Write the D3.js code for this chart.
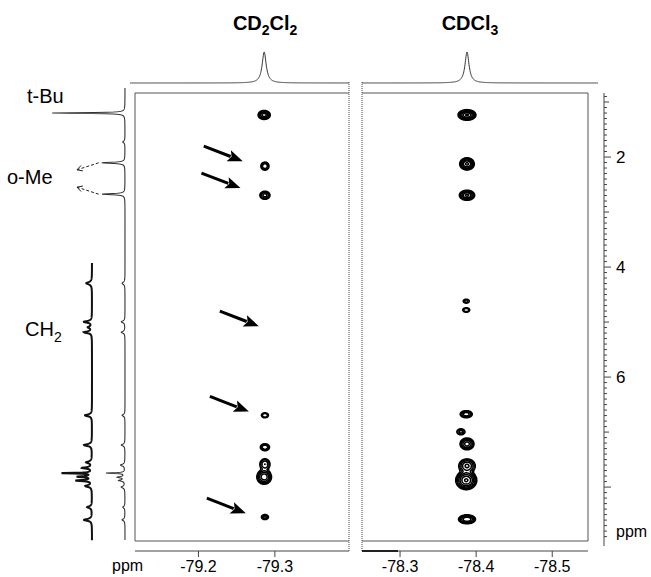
<!DOCTYPE html>
<html>
<head>
<meta charset="utf-8">
<script src="https://cdn.jsdelivr.net/npm/d3@7"></script>
<style>
body { margin: 0; background: #fff; }
svg { font-family: "Liberation Sans", Arial, sans-serif; }
</style>
</head>
<body>
<div id="chart"></div>
<script>
//DATA
//panel titles, main text + subscript pairs
var titleL = [["CD", "2"], ["Cl", "2"]];
var titleR = [["CDCl", "3"]];

//19F ranges of the two panels (ppm), left edge -> right edge
var fDomainL = [-79.117, -79.397];
var fDomainR = [-78.25, -78.547];
var fTicksL = [-79.2, -79.3];
var fTicksR = [-78.3, -78.4, -78.5];

//1H range (ppm), top -> bottom
var hDomain = [0.836, 8.98];
var hTicks = [2, 4, 6];

//cross peaks : [19F ppm, 1H ppm, intensity, width 19F, width 1H]
var peaksL = [
    [-79.286, 1.235, 8, 0.0039, 0.040],
    [-79.287, 2.165, 4, 0.0032, 0.044],
    [-79.287, 2.695, 5, 0.0037, 0.041],
    [-79.287, 6.695, 2.5, 0.0034, 0.034],
    [-79.287, 7.275, 4, 0.0036, 0.038],
    [-79.287, 7.585, 4, 0.0040, 0.060],
    [-79.286, 7.815, 9, 0.0046, 0.064],
    [-79.287, 8.545, 3, 0.0031, 0.031]
];
var peaksR = [
    [-78.388, 1.235, 16, 0.0050, 0.041],
    [-78.388, 2.125, 11, 0.0044, 0.051],
    [-78.388, 2.695, 11, 0.0046, 0.042],
    [-78.387, 4.62, 2, 0.0034, 0.031],
    [-78.387, 4.78, 2.5, 0.0034, 0.031],
    [-78.387, 6.675, 6, 0.0042, 0.034],
    [-78.380, 6.995, 3, 0.0036, 0.037],
    [-78.388, 7.215, 8, 0.0045, 0.053],
    [-78.388, 7.615, 7, 0.0055, 0.065],
    [-78.387, 7.875, 16, 0.0059, 0.073],
    [-78.388, 8.585, 10, 0.0052, 0.038]
];
var levels = [1, 1.6, 2.5, 4, 6.3, 10, 15];

//19F projections : [ppm, intensity, half width]
var fProjL = [[-79.286, 1, 0.0032]];
var fProjR = [[-78.388, 1, 0.0032]];

//1H spectrum (full) : [ppm, intensity, half width]
var hSpec = [
    [1.20, 1.0, 0.008],
    [1.725, 0.03, 0.02],
    [2.105, 0.32, 0.012],
    [2.675, 0.32, 0.012],
    [4.295, 0.04, 0.025],
    [4.995, 0.05, 0.02],
    [5.185, 0.05, 0.02],
    [6.695, 0.04, 0.02],
    [7.235, 0.05, 0.02],
    [7.60, 0.06, 0.02],
    [7.745, 0.26, 0.008],
    [7.82, 0.10, 0.015],
    [7.88, 0.08, 0.015],
    [8.00, 0.05, 0.02],
    [8.365, 0.03, 0.02],
    [8.595, 0.04, 0.02]
];
//1H spectrum, vertical expansion of the lower part
var hSpecExpRange = [3.925, 8.965];
var hSpecExp = [
    [4.295, 0.18, 0.025],
    [4.995, 0.25, 0.018],
    [5.095, 0.12, 0.02],
    [5.185, 0.25, 0.018],
    [6.695, 0.22, 0.02],
    [7.235, 0.25, 0.02],
    [7.55, 0.18, 0.02],
    [7.65, 0.30, 0.015],
    [7.745, 1.00, 0.007],
    [7.81, 0.45, 0.012],
    [7.88, 0.50, 0.012],
    [7.98, 0.20, 0.02],
    [8.365, 0.15, 0.02],
    [8.595, 0.25, 0.02]
];

//arrows pointing at the missing cross peaks in CD2Cl2 : [19F ppm, 1H ppm] of the tip
var arrowTips = [
    [-79.258, 2.075],
    [-79.255, 2.565],
    [-79.279, 5.075],
    [-79.266, 6.625],
    [-79.262, 8.475]
];
//o-Me lines used by the dashed arrows (ppm)
var oMe = [2.105, 2.675];

//LAYOUT
var W = 651, H = 577;
var top0 = 93, bot0 = 541;
var pL = {x0: 135, x1: 349};
var pR = {x0: 362, x1: 588};

var svg = d3.select("#chart").append("svg")
    .attr("width", W).attr("height", H);

var xL = d3.scaleLinear().domain(fDomainL).range([pL.x0, pL.x1]);
var xR = d3.scaleLinear().domain(fDomainR).range([pR.x0, pR.x1]);
var y = d3.scaleLinear().domain(hDomain).range([top0, bot0]);

//intensity scales of the 1D traces
var yProj = d3.scaleLinear().domain([0, 1]).range([83, 52]);
var xSpec = d3.scaleLinear().domain([0, 1]).range([125, 52]);
var xSpecExp = d3.scaleLinear().domain([0, 1]).range([92, 60]);

function lorentz(peaks, v) {
    var s = 0;
    for (var k = 0; k < peaks.length; k++) {
        var d = (v - peaks[k][0]) / peaks[k][2];
        s += peaks[k][1] / (1 + d * d);
    }
    return s;
}

/* TITLES */
function drawTitle(parts, cx) {
    var t = svg.append("text")
        .attr("x", cx).attr("y", 30)
        .attr("text-anchor", "middle")
        .style("font-weight", "bold")
        .style("font-size", "20px");
    parts.forEach(function (p, i) {
        t.append("tspan").text(p[0]).attr("dy", i ? -5 : 0);
        t.append("tspan").text(p[1]).attr("dy", 5).style("font-size", "14px");
    });
}
drawTitle(titleL, xL(-79.286) + 1);
drawTitle(titleR, xR(-78.388) + 3);

/* FRAMES */
var frame = svg.append("g")
    .attr("fill", "none").attr("stroke", "#555").attr("stroke-width", 1);
frame.append("path").attr("d", "M" + pL.x1 + "," + top0 + "H" + pL.x0 + "V" + bot0 + "H" + pL.x1);
frame.append("path").attr("d", "M" + pR.x0 + "," + top0 + "H" + pR.x1 + "V" + bot0 + "H" + pR.x0);
[pL.x1, pR.x0].forEach(function (x) {
    svg.append("line")
        .attr("x1", x).attr("x2", x).attr("y1", 82).attr("y2", 552)
        .attr("stroke", "#444").attr("stroke-width", 1)
        .attr("stroke-dasharray", "1,1");
});

/* CONTOURS */
function drawContours(peaks, xs, p) {
    var res = 2;
    var nx = Math.round((p.x1 - p.x0) * res), ny = Math.round((bot0 - top0) * res);
    var values = new Float64Array(nx * ny);
    for (var j = 0; j < ny; j++) {
        var h = y.invert(top0 + (j + 0.5) / res);
        for (var i = 0; i < nx; i++) {
            var f = xs.invert(p.x0 + (i + 0.5) / res);
            var v = 0;
            for (var k = 0; k < peaks.length; k++) {
                var dy = (h - peaks[k][1]) / peaks[k][4];
                if (dy > 6 || dy < -6) continue;
                var dx = (f - peaks[k][0]) / peaks[k][3];
                v += peaks[k][2] * Math.exp(-0.5 * (dx * dx + dy * dy));
            }
            values[j * nx + i] = v;
        }
    }
    var proj = d3.geoTransform({
        point: function (a, b) {
            this.stream.point(p.x0 + a / res, top0 + b / res);
        }
    });
    var path = d3.geoPath(proj);
    svg.append("g")
        .attr("fill", "none").attr("stroke", "#000").attr("stroke-width", 1.5)
        .selectAll("path")
        .data(d3.contours().size([nx, ny]).thresholds(levels)(values))
        .enter().append("path")
        .attr("d", path);
}
drawContours(peaksL, xL, pL);
drawContours(peaksR, xR, pR);

/* 19F PROJECTIONS */
function drawProj(peaks, xs, xa, xb) {
    var pts = d3.range(xa, xb + 0.01, 0.25).map(function (px) {
        return [px, yProj(lorentz(peaks, xs.invert(px)))];
    });
    svg.append("path")
        .attr("d", d3.line()(pts))
        .attr("fill", "none").attr("stroke", "#333").attr("stroke-width", 1);
}
drawProj(fProjL, xL, pL.x0 - 5, pL.x1);
drawProj(fProjR, xR, pR.x0, 598);

/* 1H SPECTRUM */
function drawSpec(peaks, xs, ya, yb, width, col) {
    var pts = d3.range(ya, yb + 0.01, 0.25).map(function (py) {
        return [xs(lorentz(peaks, y.invert(py))), py];
    });
    svg.append("path")
        .attr("d", d3.line()(pts))
        .attr("fill", "none").attr("stroke", col).attr("stroke-width", width);
}
drawSpec(hSpec, xSpec, 88, 540, 1.1, "#333");
drawSpec(hSpecExp, xSpecExp, y(hSpecExpRange[0]), y(hSpecExpRange[1]), 2, "#111");

/* LABELS OF THE 1H SPECTRUM */
svg.append("text").attr("x", 27).attr("y", 103).text("t-Bu").style("font-size", "20px");
svg.append("text").attr("x", 7).attr("y", 184).text("o-Me").style("font-size", "20px");
var ch2 = svg.append("text").attr("x", 25).attr("y", 336).style("font-size", "20px");
ch2.append("tspan").text("CH");
ch2.append("tspan").text("2").attr("dy", 6).style("font-size", "14px");

//dashed arrows from the o-Me lines
oMe.forEach(function (d, i) {
    var sx = xSpec(0.32) - 3, sy = y(d);
    var ex = 77, ey = sy + (i === 0 ? 7 : -7);
    var ang = Math.atan2(ey - sy, ex - sx);
    var g = svg.append("g").attr("stroke", "#222").attr("stroke-width", 1).attr("fill", "none");
    g.append("line").attr("x1", sx).attr("y1", sy).attr("x2", ex).attr("y2", ey)
        .attr("stroke-dasharray", "3,2");
    [0.5, -0.5].forEach(function (da) {
        g.append("line").attr("x1", ex).attr("y1", ey)
            .attr("x2", ex - 6 * Math.cos(ang + da)).attr("y2", ey - 6 * Math.sin(ang + da));
    });
});

/* ARROWS */
arrowTips.forEach(function (d) {
    var tx = xL(d[0]), ty = y(d[1]);
    var vx = 39, vy = 15, len = Math.sqrt(vx * vx + vy * vy);
    var ux = vx / len, uy = vy / len;
    var hl = 15, hw = 6;
    var bx = tx - ux * hl, by = ty - uy * hl;
    svg.append("line")
        .attr("x1", tx - vx).attr("y1", ty - vy).attr("x2", bx + ux * 2).attr("y2", by + uy * 2)
        .attr("stroke", "#000").attr("stroke-width", 3);
    svg.append("path")
        .attr("d", "M" + tx + "," + ty +
            "L" + (bx - uy * hw) + "," + (by + ux * hw) +
            "L" + (bx + ux * 3) + "," + (by + uy * 3) +
            "L" + (bx + uy * hw) + "," + (by - ux * hw) + "Z")
        .attr("fill", "#000");
});

/* BOTTOM AXES */
function drawBottom(xs, ticks, xa, xb) {
    var g = svg.append("g").attr("transform", "translate(0,551)");
    g.append("line").attr("x1", xa).attr("x2", xb).attr("stroke", "#444");
    g.selectAll(".t").data(ticks).enter().append("line")
        .attr("x1", xs).attr("x2", xs).attr("y1", 0).attr("y2", 6)
        .attr("stroke", "#444");
    g.selectAll(".l").data(ticks).enter().append("text")
        .attr("x", xs).attr("y", 21)
        .attr("text-anchor", "middle")
        .style("font-size", "16px")
        .text(function (d) { return d.toFixed(1); });
}
drawBottom(xL, fTicksL, pL.x0, pL.x1);
drawBottom(xR, fTicksR, pR.x0, pR.x1);
svg.append("line").attr("x1", pR.x0).attr("x2", 398).attr("y1", 551).attr("y2", 551)
    .attr("stroke", "#222").attr("stroke-width", 2);
svg.append("text").attr("x", 112).attr("y", 571).text("ppm").style("font-size", "16px");

/* RIGHT 1H AXIS */
var ax = 604;
var ra = svg.append("g").attr("stroke", "#444").attr("stroke-width", 1);
ra.append("line").attr("x1", ax).attr("x2", ax).attr("y1", top0).attr("y2", 546);
var minor = d3.range(Math.ceil(hDomain[0] * 10), Math.floor(hDomain[1] * 10) + 1).map(function (d) { return d / 10; });
ra.selectAll("line.m").data(minor).enter().append("line")
    .attr("x1", ax).attr("y1", function (d) { return y(d); }).attr("y2", function (d) { return y(d); })
    .attr("x2", function (d) {
        var r = Math.round(d * 10);
        if (r % 20 === 0) return ax + 7;
        if (r % 10 === 0) return ax + 5;
        return ax + 3;
    });
svg.selectAll("text.h").data(hTicks).enter().append("text")
    .attr("x", 616).attr("y", function (d) { return y(d) + 6; })
    .style("font-size", "17px")
    .text(function (d) { return d; });
svg.append("text").attr("x", 616).attr("y", 537).text("ppm").style("font-size", "16px");
</script>
</body>
</html>
